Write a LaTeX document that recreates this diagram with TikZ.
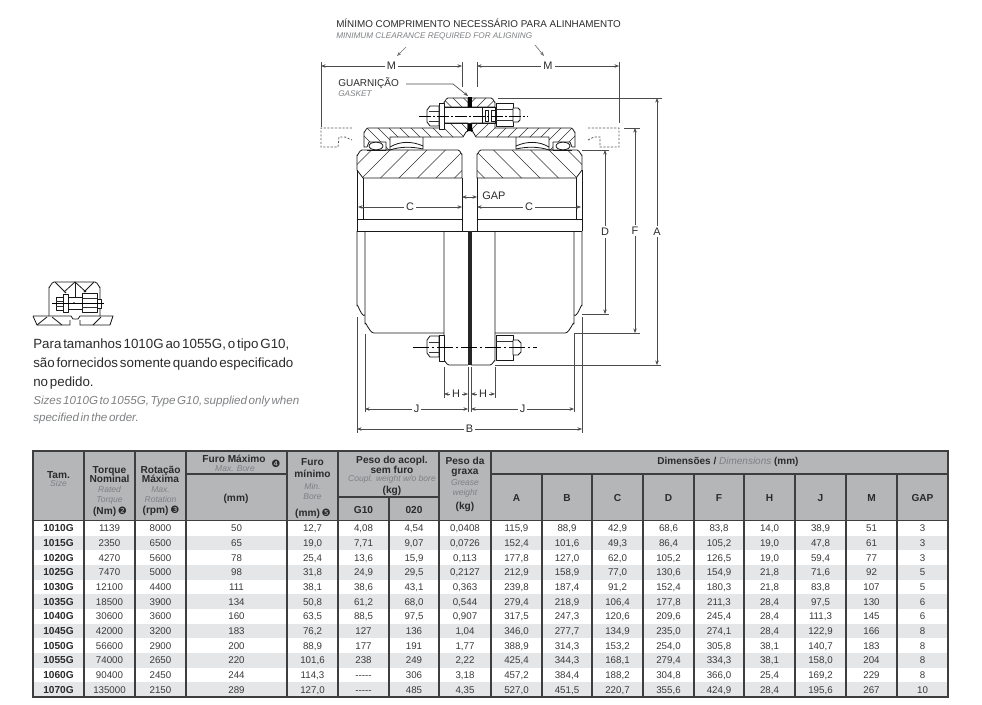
\documentclass[tikz,border=0pt]{standalone}
\usepackage{fontspec}
\setmainfont{Liberation Sans}
\newfontfamily\tightfont[WordSpace=0.5]{Liberation Sans}
\newfontfamily\dingfont{DejaVu Sans}
\usetikzlibrary{arrows.meta}
\definecolor{ink}{HTML}{2B2B2B}
\definecolor{greytext}{HTML}{7E8083}
\definecolor{headfill}{HTML}{B4B6B8}
\definecolor{rowfill}{HTML}{E5E6E7}
\definecolor{rule}{HTML}{3E3E3E}
\definecolor{bodytext}{HTML}{3A3A3A}
\newcounter{txtc}
\tikzset{
  txt/.style={inner sep=0pt,text=ink,font=\fontsize{7.4pt}{8pt}\selectfont},
  tb/.style={txt,anchor=base,yshift=-2.6pt,font=\fontsize{7.6pt}{8pt}\selectfont\bfseries},
  ti/.style={txt,anchor=base,yshift=-2.2pt,text=greytext,font=\fontsize{6.4pt}{7pt}\selectfont\itshape},
  cellt/.style={txt,anchor=base,yshift=-2.6pt,text=bodytext,font=\fontsize{7.3pt}{8pt}\selectfont},
  cellb/.style={txt,anchor=base,yshift=-2.6pt,font=\fontsize{7.6pt}{8pt}\selectfont\bfseries},
  lab/.style={inner sep=1.5pt,fill=white,text=ink,font=\fontsize{8.2pt}{9pt}\selectfont},
  part/.style={draw=black!90,line width=.6pt,line join=round},
  hl/.style={draw=black!80,line width=.42pt},
  dim/.style={draw=black!70,line width=.42pt,{Stealth[length=3.4pt,width=2.6pt]}-{Stealth[length=3.4pt,width=2.6pt]}},
  ext/.style={draw=black!70,line width=.5pt},
  phantomline/.style={draw=black!65,line width=.55pt,dash pattern=on 1.6pt off 1.2pt},
  tl/.style={draw=rule,line width=.9pt},
}
\newcommand\tx[4][txt]{\stepcounter{txtc}\node[#1] (t\thetxtc) at (#2,#3) {#4};}
% path, x0, count, step, dir, y0, y1
\newcommand\hatched[7]{%
  \begin{scope}\clip #1;
    \foreach \i in {0,...,#3}{\draw[hl] ({#2+\i*#4},#7)--({#2+\i*#4+#5*(#7-#6)},#6);}
  \end{scope}
  \draw[part] #1;}
\newcommand\halfcoupling{%
  % hub
  \hatched{(357,155) to[out=-90,in=180] (362,150) -- (458,150) to[out=0,in=-90] (462,154) -- (462,178) -- (363,178) -- (357,170) -- cycle}{325}{10}{18.5}{1}{150}{178}
  \draw[part] (357,170) -- (357,231) (363,178) -- (363,219) (462,178) -- (462,231);
  \draw[part] (357,219) -- (462,219) (357,231) -- (462,231);
  \draw[part] (357,231) -- (357,306) to[out=90,in=-135] (365,315);
  \draw[part] (365,231) -- (365,324) to[out=90,in=180] (374,333) -- (444,333);
  \draw[part] (444,231) -- (444,361) to[out=90,in=180] (449,365) -- (468,365);
  % sleeve
  \hatched{(364,132) to[out=-90,in=180] (368,128) -- (444,128) -- (444,123) -- (468,123) -- (468,131) -- (466,132) -- (463,137) -- (390,137) -- (390,150) -- (386,150) -- (386,142) -- (369,142) -- (367,147) -- (364,147) -- cycle}{345}{14}{11}{-1}{123}{150}
  % seal
  \draw[part,fill=white] (376,146) ellipse (7 and 3.8);
  \draw[part] (367,150) -- (386,150);
  % tooth
  \draw[part] (390,147) .. controls (400,141) and (412,141) .. (423,146) -- (423,137);
  \draw[part] (390,150) .. controls (400,146.5) and (412,146.5) .. (423,149) -- (423,146);
  % flange upper half
  \hatched{(444,102) to[out=-90,in=180] (448,98) -- (468,98) -- (468,107) -- (444,107) -- cycle}{420}{6}{10.5}{-1}{98}{107}
  \draw[part] (444,107) -- (444,123);
}
\begin{document}
\begin{tikzpicture}[x=.75pt,y=-.75pt]
\useasboundingbox (0,0) rectangle (982,704);
\fill[white] (0,0) rectangle (982,704);

% ---- headings
\tx[{txt,anchor=west,font=\fontsize{7.4pt}{9pt}\selectfont}]{336}{23}{MÍNIMO COMPRIMENTO NECESSÁRIO PARA ALINHAMENTO}
\tx[{txt,text=greytext,anchor=west,font=\fontsize{6.15pt}{7pt}\selectfont\itshape}]{336}{36}{MINIMUM CLEARANCE REQUIRED FOR ALIGNING}
\draw[ext,draw=black!55,-{Stealth[length=3.4pt,width=2.6pt]}] (406,47) -- (397,56);
\draw[ext,draw=black!55,-{Stealth[length=3.4pt,width=2.6pt]}] (535,45) -- (544,56);
\tx[{txt,anchor=west,font=\fontsize{7.5pt}{9pt}\selectfont}]{338}{83}{GUARNIÇÃO}
\tx[{txt,text=greytext,anchor=west,font=\fontsize{6.15pt}{7pt}\selectfont\itshape}]{338}{94}{GASKET}
\draw[ext,-{Stealth[length=3.4pt,width=2.6pt]}] (406,84) -- (453,84) -- (468,96);

% ---- coupling halves (mirrored about x=469.5)
\halfcoupling
\begin{scope}[xshift=704.25pt,xscale=-1]
\halfcoupling
\end{scope}

% ---- centre
\draw[part] (462,231) -- (477,231);
\fill[black!85] (467.7,231) rectangle (471.7,365);
\fill[black] (467.7,97) rectangle (472,107);
\fill[black] (467.7,123) -- (472,123) -- (472,128) -- (473,131) -- (467,131) -- (467.7,128) -- cycle;

% ---- upper bolt
\draw[part] (444,107) -- (482,107) (444,123) -- (482,123) (482,107) -- (482,123);
\draw[part,fill=white] (439,103) rectangle (444,129);
\draw[part,fill=white] (430,106) -- (439,106) -- (439,126) -- (430,126) -- (427,122) -- (427,110) -- cycle;
\draw[hl] (429,111) -- (439,111) (429,121) -- (439,121);
\draw[part,fill=white] (496,103) rectangle (513,126);
\draw[hl] (496,109) -- (513,109) (496,120) -- (513,120);
\draw[part,fill=white] (513,108) -- (518,108) -- (520,110) -- (520,120) -- (518,122) -- (513,122) -- cycle;
\draw[part] (485,110) rectangle (488,121) (491,110) rectangle (495,121);
\draw[part] (482,107) -- (496,107) (482,123) -- (496,123);
\draw[line width=.5pt,dash pattern=on 9pt off 1.5pt on 1.5pt off 1.5pt] (419,116) -- (528,116);

% ---- lower bolt
\draw[part,fill=white] (430,336) -- (439,336) -- (439,357) -- (430,357) -- (427,353) -- (427,340) -- cycle;
\draw[hl] (429,342) -- (439,342) (429,352) -- (439,352);
\draw[part,fill=white] (439,335) rectangle (444,361);
\draw[part,fill=white] (496,335) rectangle (513,360);
\draw[hl] (496,341) -- (513,341);
\draw[part,fill=white] (513,340) -- (518,340) -- (521,343) -- (521,352) -- (518,355) -- (513,355) -- cycle;
\draw[line width=.5pt,dash pattern=on 12pt off 2pt on 2pt off 2pt] (413,347) -- (537,347);

% ---- phantom sleeve positions
\draw[phantomline] (352,128) -- (321,128) -- (321,147) -- (338,147) -- (339,137) -- (345,137) -- (352,140);
\draw[phantomline] (588,128) -- (619,128) -- (619,147) -- (600,147) -- (600,137) -- (594,137) -- (588,140);

% ---- extension lines
\draw[ext] (321,62) -- (321,127) (462,62) -- (462,87) (477,62) -- (477,87) (619,62) -- (619,123);
\draw[ext] (498,98) -- (662,98) (624,128) -- (640,128) (582,150) -- (609,150);
\draw[ext] (582,314) -- (609,314) (574,333) -- (640,333) (495,365) -- (661,365);
\draw[ext] (444,367) -- (444,398) (495,367) -- (495,398) (468,367) -- (468,412) (471,367) -- (471,412);
\draw[ext] (365,334) -- (365,412) (574,334) -- (574,412) (357,317) -- (357,433) (582,317) -- (582,433);

% ---- dimensions
\draw[dim] (321,66) -- node[lab]{M} (462,66);
\draw[dim] (477,66) -- node[lab]{M} (619,66);
\draw[dim] (462,197) -- (477,197);
\tx[{lab,anchor=west,inner sep=0pt}]{482}{196}{GAP}
\draw[dim] (358,207) -- node[lab]{C} (462,207);
\draw[dim] (477,207) -- node[lab]{C} (581,207);
\draw[dim] (605,150) -- node[lab]{D} (605,314);
\draw[dim] (635,128) -- node[lab]{F} (635,333);
\draw[dim] (657,98) -- node[lab]{A} (657,365);
\draw[dim] (444,394) -- node[lab]{H} (468,394);
\draw[dim] (471,394) -- node[lab]{H} (495,394);
\draw[dim] (365,409) -- node[lab]{J} (468,409);
\draw[dim] (471,409) -- node[lab]{J} (574,409);
\draw[dim] (357,429) -- node[lab]{B} (582,429);

% ---- inset sketch
\draw[part] (49,316) -- (49,287) to[out=-90,in=180] (54,282) -- (95,282) to[out=0,in=-90] (100,287) -- (100,316);
\draw[part] (75,282) -- (75,297);
\draw[part] (55,282) -- (66,293) (94,282) -- (84,292) (75,282) -- (64,292) (75,282) -- (86,292);
\draw[part] (33,316) -- (71,316) -- (73,319) -- (78,319) -- (80,316) -- (113,316) -- (110,325) -- (80,325) -- (80,320);
\draw[part] (33,316) -- (37,325) -- (70,325) -- (70,320);
\draw[part] (37,325) -- (47,317) (52,317) -- (62,325) (93,325) -- (101,317);
\draw[part,fill=white] (63,294) rectangle (68,312);
\draw[part,fill=white] (56,297) rectangle (63,310);
\draw[hl] (56,301) -- (63,301) (56,306) -- (63,306);
\draw[part,fill=white] (82,293) rectangle (97,312);
\draw[hl] (82,298) -- (97,298) (82,307) -- (97,307);
\draw[part,fill=white] (97,299) rectangle (101,308);
\draw[part] (68,297) -- (82,297) (68,309) -- (82,309);
\draw[line width=.45pt] (52,303) -- (104,303);
\fill (74,303) circle (1);

% ---- note
\tx[{txt,anchor=west,font=\fontsize{10pt}{12pt}\tightfont}]{33}{345}{Para tamanhos 1010G ao 1055G, o tipo G10,}
\tx[{txt,anchor=west,font=\fontsize{10pt}{12pt}\tightfont}]{33}{364}{são fornecidos somente quando especificado}
\tx[{txt,anchor=west,font=\fontsize{10pt}{12pt}\tightfont}]{33}{383}{no pedido.}
\tx[{txt,text=greytext,anchor=west,font=\fontsize{8.7pt}{10pt}\tightfont\itshape}]{33}{401}{Sizes 1010G to 1055G, Type G10, supplied only when}
\tx[{txt,text=greytext,anchor=west,font=\fontsize{8.7pt}{10pt}\tightfont\itshape}]{33}{418}{specified in the order.}

% ---- table
\fill[headfill] (33,451) rectangle (948,521);
\foreach \r in {1,3,5,7,9,11}{\fill[rowfill] (33,{521+\r*14.67}) rectangle (948,{521+(\r+1)*14.67});}
\foreach \x in {84,135,186,287,338,439,491,542,592,643,694,744,795,846,897}{\draw[tl] (\x,451) -- (\x,697);}
\draw[tl] (389,497) -- (389,697);
\foreach \x in {542,592,643,694,744,795,846,897}{\fill[headfill] (\x-1,452) rectangle (\x+1,473);}
\draw[tl] (186,474) -- (287,474) (491,474) -- (948,474) (338,497) -- (439,497);
\draw[tl] (33,520.5) -- (948,520.5);
\draw[draw=rule,line width=1.6pt] (33,451) rectangle (948,697);

% header text
\tx[tb]{58.5}{475}{Tam.}
\tx[ti]{58.5}{484}{Size}
\tx[tb]{109.5}{470}{Torque}
\tx[tb]{109.5}{479}{Nominal}
\tx[ti]{109.5}{490}{Rated}
\tx[ti]{109.5}{500}{Torque}
\tx[tb]{110}{511}{(Nm)\,{\dingfont\mdseries ❷}}
\tx[tb]{160.5}{470}{Rotação}
\tx[tb]{160.5}{479}{Máxima}
\tx[ti]{160.5}{490}{Max.}
\tx[ti]{160.5}{500}{Rotation}
\tx[tb]{161}{510}{(rpm)\,{\dingfont\mdseries ❸}}
\tx[tb]{234}{459}{Furo Máximo}
\tx[tb]{276}{464}{{\dingfont\mdseries ❹}}
\tx[ti]{235}{469}{Max. Bore}
\tx[tb]{236}{498}{(mm)}
\tx[tb]{312.5}{462}{Furo}
\tx[tb]{312.5}{474}{mínimo}
\tx[ti]{312.5}{487}{Min.}
\tx[ti]{312.5}{497}{Bore}
\tx[tb]{313}{513}{(mm)\,{\dingfont\mdseries ❺}}
\tx[tb]{392}{460}{Peso do acopl.}
\tx[tb]{392}{470}{sem furo}
\tx[ti]{392}{479}{Coupl. weight w/o bore}
\tx[tb]{392}{490}{(kg)}
\tx[tb]{363.5}{510}{G10}
\tx[tb]{414}{510}{020}
\tx[tb]{465}{461}{Peso da}
\tx[tb]{465}{471}{graxa}
\tx[ti]{465}{483}{Grease}
\tx[ti]{465}{493}{weight}
\tx[tb]{465}{506}{(kg)}
\tx[{txt,font=\fontsize{7.5pt}{8pt}\selectfont}]{728}{462}{\textbf{Dimensões /} {\color{greytext}\itshape Dimensions} \textbf{(mm)}}
\foreach \x/\l in {516.5/A,567/B,617.5/C,668.5/D,719/F,769.5/H,820.5/J,871.5/M,922.5/GAP}{\tx[tb]{\x}{498}{\l}}

% body rows
\newcommand\trow[3]{%
  \tx[cellb]{58.5}{#1}{#2}
  \foreach \t [count=\k from 0] in {#3}{%
    \pgfmathsetmacro\cx{{109.5,160.5,236.5,312.5,363.5,414,465,516.5,567,617.5,668.5,719,769.5,820.5,871.5,922.5}[\k]}
    \tx[cellt]{\cx}{#1}{\t}
  }}
\trow{528.3}{1010G}{1139,8000,50,{12,7},{4,08},{4,54},{0,0408},{115,9},{88,9},{42,9},{68,6},{83,8},{14,0},{38,9},51,3}
\trow{543}{1015G}{2350,6500,65,{19,0},{7,71},{9,07},{0,0726},{152,4},{101,6},{49,3},{86,4},{105,2},{19,0},{47,8},61,3}
\trow{557.7}{1020G}{4270,5600,78,{25,4},{13,6},{15,9},{0,113},{177,8},{127,0},{62,0},{105,2},{126,5},{19,0},{59,4},77,3}
\trow{572.3}{1025G}{7470,5000,98,{31,8},{24,9},{29,5},{0,2127},{212,9},{158,9},{77,0},{130,6},{154,9},{21,8},{71,6},92,5}
\trow{587}{1030G}{12100,4400,111,{38,1},{38,6},{43,1},{0,363},{239,8},{187,4},{91,2},{152,4},{180,3},{21,8},{83,8},107,5}
\trow{601.7}{1035G}{18500,3900,134,{50,8},{61,2},{68,0},{0,544},{279,4},{218,9},{106,4},{177,8},{211,3},{28,4},{97,5},130,6}
\trow{616.3}{1040G}{30600,3600,160,{63,5},{88,5},{97,5},{0,907},{317,5},{247,3},{120,6},{209,6},{245,4},{28,4},{111,3},145,6}
\trow{631}{1045G}{42000,3200,183,{76,2},127,136,{1,04},{346,0},{277,7},{134,9},{235,0},{274,1},{28,4},{122,9},166,8}
\trow{645.7}{1050G}{56600,2900,200,{88,9},177,191,{1,77},{388,9},{314,3},{153,2},{254,0},{305,8},{38,1},{140,7},183,8}
\trow{660.3}{1055G}{74000,2650,220,{101,6},238,249,{2,22},{425,4},{344,3},{168,1},{279,4},{334,3},{38,1},{158,0},204,8}
\trow{675}{1060G}{90400,2450,244,{114,3},{-{}-{}-{}-{}-},306,{3,18},{457,2},{384,4},{188,2},{304,8},{366,0},{25,4},{169,2},229,8}
\trow{689.7}{1070G}{135000,2150,289,{127,0},{-{}-{}-{}-{}-},485,{4,35},{527,0},{451,5},{220,7},{355,6},{424,9},{28,4},{195,6},267,10}
\end{tikzpicture}
\end{document}
